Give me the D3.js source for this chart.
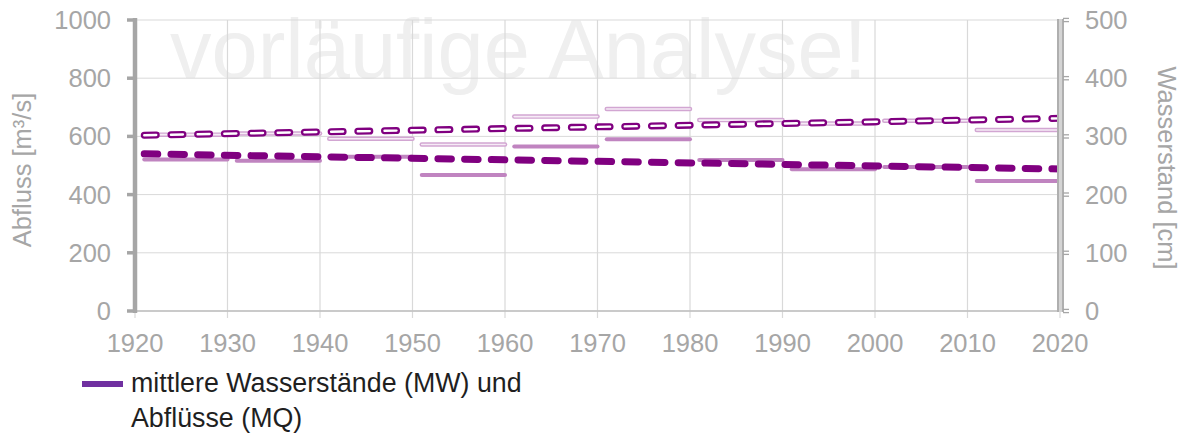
<!DOCTYPE html>
<html>
  <head>
    <meta charset="UTF-8">
    <title>Wasserstand und Abfluss</title>
    <script src="https://d3js.org/d3.v7.min.js"></script>
    <style>
      body { margin: 0; background: #fff; }
      svg { display: block; font-family: "Liberation Sans", Arial, sans-serif; }
    </style>
  </head>
  <body>
    <svg id="chart" width="1188" height="437"></svg>
    <script>
      // decade start years (segments run start .. start+9)
      const decadeStarts = [1921, 1931, 1941, 1951, 1961, 1971, 1981, 1991, 2001, 2011];
      // mittlere Abflüsse MQ per decade [m³/s]
      const mqDecades = [521, 516, 530, 467, 565, 590, 519, 487, 495, 447];
      // mittlere Wasserstände MW per decade [cm]
      const mwDecades = [303, 305, 296, 286, 334, 347, 328, 322, 327, 311];
      // linear trends (start / end)
      const mqTrend = [{ year: 1921, v: 540 }, { year: 2020, v: 488 }];
      const mwTrend = [{ year: 1921, v: 302 }, { year: 2020, v: 331 }];

      const xTicks = d3.range(1920, 2021, 10);
      const yLeftTicks = [0, 200, 400, 600, 800, 1000];
      const yRightTicks = [0, 100, 200, 300, 400, 500];

      const margin = { top: 20, left: 135, right: 128, bottom: 126 };
      const width = 1188 - margin.left - margin.right;
      const height = 437 - margin.top - margin.bottom;

      const svg = d3.select('#chart');
      const g = svg.append('g').attr('transform', `translate(${margin.left},${margin.top})`);

      const x = d3.scaleLinear().domain([1920, 2020]).range([0, width]);
      const yL = d3.scaleLinear().domain([0, 1000]).range([height, 0]);
      const yR = d3.scaleLinear().domain([0, 500]).range([height, 0]);

      const grey = '#a6a6a6';
      const gridCol = '#d9d9d9';

      // watermark
      g.append('text')
        .attr('x', 35)
        .attr('y', 58)
        .attr('font-size', 83)
        .attr('fill', '#efefef')
        .text('vorläufige Analyse!');

      // grid
      g.append('g').selectAll('line')
        .data(yLeftTicks)
        .join('line')
        .attr('x1', 0).attr('x2', width)
        .attr('y1', d => yL(d)).attr('y2', d => yL(d))
        .attr('stroke', gridCol).attr('stroke-width', 1);

      g.append('g').selectAll('line')
        .data(xTicks)
        .join('line')
        .attr('x1', d => x(d)).attr('x2', d => x(d))
        .attr('y1', 0).attr('y2', height + 7)
        .attr('stroke', gridCol).attr('stroke-width', 1.2);

      g.append('line')
        .attr('x1', 0).attr('x2', width)
        .attr('y1', height).attr('y2', height)
        .attr('stroke', '#bfbfbf').attr('stroke-width', 1.5);

      // decade segments
      const segs = decadeStarts.map((d, i) => ({ a: d, b: d + 9, mq: mqDecades[i], mw: mwDecades[i] }));

      g.append('g').selectAll('line')
        .data(segs)
        .join('line')
        .attr('x1', d => x(d.a)).attr('x2', d => x(d.b))
        .attr('y1', d => yL(d.mq)).attr('y2', d => yL(d.mq))
        .attr('stroke', '#c084c0').attr('stroke-width', 4)
        .attr('stroke-linecap', 'round');

      const mwSeg = g.append('g');
      mwSeg.selectAll('line.o')
        .data(segs)
        .join('line')
        .attr('class', 'o')
        .attr('x1', d => x(d.a)).attr('x2', d => x(d.b))
        .attr('y1', d => yR(d.mw)).attr('y2', d => yR(d.mw))
        .attr('stroke', '#d2a6d2').attr('stroke-width', 4.5)
        .attr('stroke-linecap', 'round');
      mwSeg.selectAll('line.i')
        .data(segs)
        .join('line')
        .attr('class', 'i')
        .attr('x1', d => x(d.a)).attr('x2', d => x(d.b))
        .attr('y1', d => yR(d.mw)).attr('y2', d => yR(d.mw))
        .attr('stroke', '#f6ecf6').attr('stroke-width', 1.6)
        .attr('stroke-linecap', 'round');

      // trend lines
      const lineL = d3.line().x(d => x(d.year)).y(d => yL(d.v));
      const lineR = d3.line().x(d => x(d.year)).y(d => yR(d.v));

      g.append('path')
        .attr('d', lineL(mqTrend))
        .attr('fill', 'none')
        .attr('stroke', '#800080').attr('stroke-width', 7)
        .attr('stroke-linecap', 'round')
        .attr('stroke-dasharray', '13.5,13.2');

      g.append('path')
        .attr('d', lineR(mwTrend))
        .attr('fill', 'none')
        .attr('stroke', '#800080').attr('stroke-width', 7)
        .attr('stroke-linecap', 'round')
        .attr('stroke-dasharray', '12,14.7');
      g.append('path')
        .attr('d', lineR(mwTrend))
        .attr('fill', 'none')
        .attr('stroke', '#ffffff').attr('stroke-width', 2.4)
        .attr('stroke-linecap', 'round')
        .attr('stroke-dasharray', '12,14.7');

      // left axis
      g.append('line')
        .attr('x1', 0).attr('x2', 0)
        .attr('y1', -2).attr('y2', height + 2)
        .attr('stroke', grey).attr('stroke-width', 4.5);
      g.append('g').selectAll('line')
        .data(yLeftTicks)
        .join('line')
        .attr('x1', -8).attr('x2', 0)
        .attr('y1', d => yL(d)).attr('y2', d => yL(d))
        .attr('stroke', grey).attr('stroke-width', 3.5);
      g.append('g').selectAll('text')
        .data(yLeftTicks)
        .join('text')
        .attr('x', -24)
        .attr('y', d => yL(d))
        .attr('dy', '0.35em')
        .attr('text-anchor', 'end')
        .attr('font-size', 25.5)
        .attr('fill', grey)
        .text(d => d);

      // right axis (double line)
      g.append('rect')
        .attr('x', width - 3).attr('y', -1)
        .attr('width', 7).attr('height', height + 2)
        .attr('fill', '#d4d4d4');
      [width - 2, width + 3].forEach(px => {
        g.append('line')
          .attr('x1', px).attr('x2', px)
          .attr('y1', -1).attr('y2', height + 1)
          .attr('stroke', grey).attr('stroke-width', 1.6);
      });
      g.append('g').selectAll('g')
        .data(yRightTicks)
        .join('g')
        .each(function (d) {
          [-1.6, 1.6].forEach(off => {
            d3.select(this).append('line')
              .attr('x1', width + 3).attr('x2', width + 9)
              .attr('y1', yR(d) + off).attr('y2', yR(d) + off)
              .attr('stroke', grey).attr('stroke-width', 1.3);
          });
        });
      g.append('g').selectAll('text')
        .data(yRightTicks)
        .join('text')
        .attr('x', width + 25)
        .attr('y', d => yR(d))
        .attr('dy', '0.35em')
        .attr('font-size', 25.5)
        .attr('fill', grey)
        .text(d => d);

      // x labels
      g.append('g').selectAll('text')
        .data(xTicks)
        .join('text')
        .attr('x', d => x(d))
        .attr('y', height + 41)
        .attr('text-anchor', 'middle')
        .attr('font-size', 25.5)
        .attr('fill', grey)
        .text(d => d);

      // axis titles
      svg.append('text')
        .attr('transform', 'translate(31,170) rotate(-90)')
        .attr('text-anchor', 'middle')
        .attr('font-size', 25.5)
        .attr('fill', grey)
        .text('Abfluss [m³/s]');
      svg.append('text')
        .attr('transform', 'translate(1158,168) rotate(90)')
        .attr('text-anchor', 'middle')
        .attr('font-size', 25.5)
        .attr('fill', grey)
        .text('Wasserstand [cm]');

      // legend
      const legend = svg.append('g');
      legend.append('line')
        .attr('x1', 82).attr('x2', 123)
        .attr('y1', 384).attr('y2', 384)
        .attr('stroke', '#7030a0').attr('stroke-width', 6);
      legend.append('text')
        .attr('x', 131).attr('y', 392)
        .attr('font-size', 26.8)
        .attr('fill', '#1f1f1f')
        .text('mittlere Wasserstände (MW) und');
      legend.append('text')
        .attr('x', 131).attr('y', 427)
        .attr('font-size', 26.8)
        .attr('fill', '#1f1f1f')
        .text('Abflüsse (MQ)');
    </script>
  </body>
</html>
